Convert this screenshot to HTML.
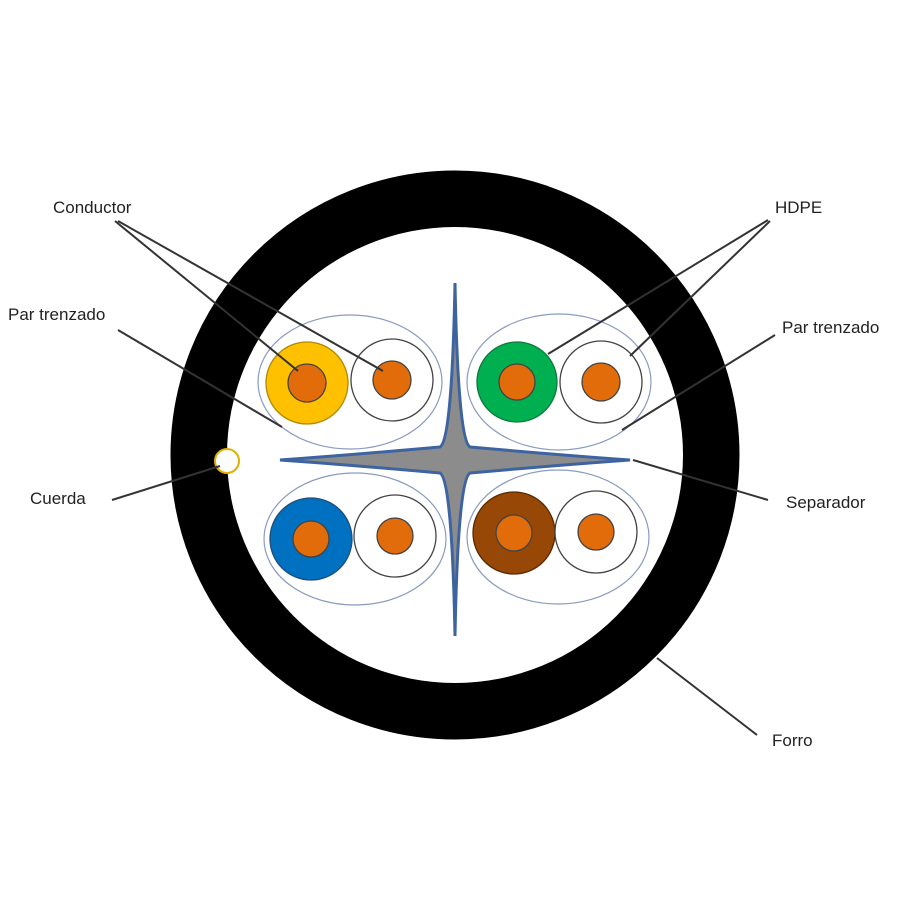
<!DOCTYPE html>
<html><head><style>
body{margin:0;background:#fff}
svg text{font-family:"Liberation Sans",sans-serif;font-size:17px;fill:#222}
</style></head><body>
<svg width="900" height="900" viewBox="0 0 900 900" xmlns="http://www.w3.org/2000/svg">
<rect width="900" height="900" fill="#fff"/>
<circle cx="455" cy="455" r="256" fill="none" stroke="#000" stroke-width="57"/>
<circle cx="455" cy="455" r="228" fill="#fff"/>
<g fill="none" stroke="#8a9bc0" stroke-width="1.2">
<ellipse cx="350" cy="382" rx="92" ry="67"/>
<ellipse cx="559" cy="382" rx="92" ry="68"/>
<ellipse cx="355" cy="539" rx="91" ry="66"/>
<ellipse cx="558" cy="537" rx="91" ry="67"/>
</g>
<g stroke="#444" stroke-width="1.3">
<circle cx="307" cy="383" r="41" fill="#ffc000" stroke="#b08a00"/>
<circle cx="307" cy="383" r="19" fill="#e36c0a"/>
<circle cx="392" cy="380" r="41" fill="#fff"/>
<circle cx="392" cy="380" r="19" fill="#e36c0a"/>
<circle cx="517" cy="382" r="40" fill="#00b050" stroke="#0a7a3a"/>
<circle cx="517" cy="382" r="18" fill="#e36c0a"/>
<circle cx="601" cy="382" r="41" fill="#fff"/>
<circle cx="601" cy="382" r="19" fill="#e36c0a"/>
<circle cx="311" cy="539" r="41" fill="#0070c0" stroke="#1f4e79"/>
<circle cx="311" cy="539" r="18" fill="#e36c0a"/>
<circle cx="395" cy="536" r="41" fill="#fff"/>
<circle cx="395" cy="536" r="18" fill="#e36c0a"/>
<circle cx="514" cy="533" r="41" fill="#974706" stroke="#5a2a00"/>
<circle cx="514" cy="533" r="18" fill="#e36c0a"/>
<circle cx="596" cy="532" r="41" fill="#fff"/>
<circle cx="596" cy="532" r="18" fill="#e36c0a"/>
</g>
<path d="M455 283 Q458 440 470 447 Q560 455 630 460 Q560 465 470 473 Q458 480 455 636 Q452 480 440 473 Q350 465 280 460 Q350 455 440 447 Q452 440 455 283 Z" fill="#8c8c8c" stroke="#3d64a0" stroke-width="3"/>
<circle cx="227" cy="461" r="12" fill="#fff" stroke="#e0b000" stroke-width="2"/>
<g stroke="#333" stroke-width="2">
<line x1="115" y1="221" x2="298" y2="371"/>
<line x1="118" y1="221" x2="383" y2="371"/>
<line x1="118" y1="330" x2="282" y2="427"/>
<line x1="112" y1="500" x2="220" y2="466"/>
<line x1="768" y1="220" x2="548" y2="354"/>
<line x1="770" y1="221" x2="630" y2="356"/>
<line x1="775" y1="335" x2="622" y2="430"/>
<line x1="768" y1="500" x2="633" y2="460"/>
<line x1="757" y1="735" x2="657" y2="658"/>
</g>
<text x="53" y="213">Conductor</text>
<text x="8" y="320">Par trenzado</text>
<text x="30" y="504">Cuerda</text>
<text x="775" y="213">HDPE</text>
<text x="782" y="333">Par trenzado</text>
<text x="786" y="508">Separador</text>
<text x="772" y="746">Forro</text>
</svg>
</body></html>
